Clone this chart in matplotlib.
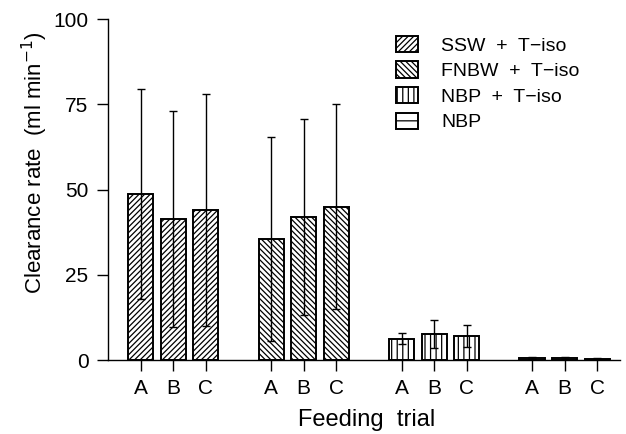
import numpy as np
import matplotlib
matplotlib.use("Agg")
import matplotlib.pyplot as plt

plt.rcParams['font.family'] = ['Liberation Sans', 'DejaVu Sans']
plt.rcParams['hatch.linewidth'] = 0.9

# data
treatments = ['SSW  +  T\u2212iso', 'FNBW  +  T\u2212iso', 'NBP  +  T\u2212iso', 'NBP']
trials = ['A', 'B', 'C']
means = [
    [48.7, 41.3, 44.0],
    [35.5, 42.0, 45.0],
    [6.3, 7.6, 7.0],
    [0.5, 0.6, 0.3],
]
sds = [
    [30.8, 31.7, 34.0],
    [30.0, 28.7, 30.0],
    [1.5, 4.2, 3.3],
    [0.3, 0.3, 0.2],
]
hatches = ['//////', '\\\\\\\\\\\\', '|||', '--']

fig = plt.figure(figsize=(6.26, 4.34), dpi=100)
ax = fig.add_axes([0.1725, 0.1705, 0.818, 0.7855])

for g in range(4):
    xs = np.arange(3) + g * 4
    ax.bar(xs, means[g], width=0.77, color='white', edgecolor='black',
           linewidth=1.4, hatch=hatches[g], label=treatments[g], zorder=2)
    ax.errorbar(xs, means[g], yerr=sds[g], fmt='none', ecolor='black',
                elinewidth=1.0, capsize=3, capthick=1.0, zorder=3)

ticks = [g * 4 + t for g in range(4) for t in range(3)]
ax.set_xticks(ticks)
ax.set_xticklabels(trials * 4)
ax.set_xlim(-1, 14.7)
ax.set_ylim(0, 100)
ax.set_yticks([0, 25, 50, 75, 100])

for s in ['top', 'right']:
    ax.spines[s].set_visible(False)
ax.spines['left'].set_linewidth(1.0)
ax.spines['bottom'].set_linewidth(1.0)
ax.tick_params(axis='both', direction='out', length=8, width=1.0,
               labelsize=15, pad=6)

ax.set_xlabel('Feeding  trial', fontsize=17)
ax.xaxis.set_label_coords(0.505, -0.145)
ax.set_ylabel('Clearance rate  (ml min$^{-1}$)', fontsize=16)
ax.yaxis.set_label_coords(-0.113, 0.578)

ax.legend(loc='upper left', bbox_to_anchor=(0.54, 0.985), frameon=False,
          fontsize=14, handlelength=1.1, handleheight=0.9,
          handletextpad=1.2, labelspacing=0.35, borderaxespad=0.2)

fig.savefig('out.png', dpi=100)
